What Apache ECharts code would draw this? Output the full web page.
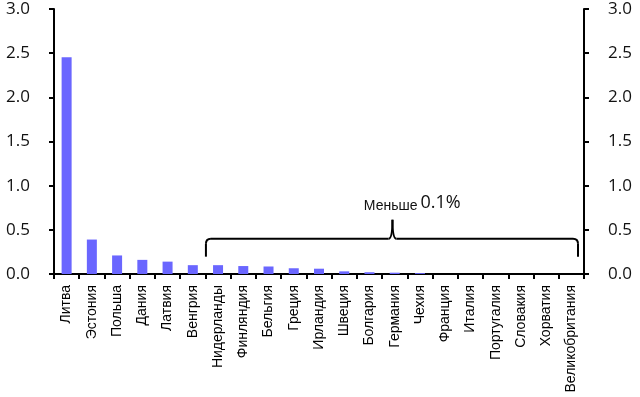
<!DOCTYPE html>
<html>
<head>
<meta charset="utf-8">
<script src="https://cdn.jsdelivr.net/npm/echarts@6/dist/echarts.min.js"></script>
<style>
  html, body { margin: 0; padding: 0; background: #ffffff; }
  #chart { width: 640px; height: 397px; }
</style>
</head>
<body>
<div id="chart"></div>
<script>
// страны и доли (%)
var countries = [
  "Литва", "Эстония", "Польша", "Дания", "Латвия", "Венгрия", "Нидерланды",
  "Финляндия", "Бельгия", "Греция", "Ирландия", "Швеция", "Болгария",
  "Германия", "Чехия", "Франция", "Италия", "Португалия", "Словакия",
  "Хорватия", "Великобритания"
];
var shares = [
  2.455, 0.39, 0.21, 0.16, 0.14, 0.10, 0.10,
  0.09, 0.085, 0.065, 0.06, 0.03, 0.02,
  0.015, 0.01, 0, 0, 0, 0,
  0, 0
];
var yMin = 0, yMax = 3, yStep = 0.5;
// скобка "Меньше 0.1%"
var braceFrom = "Нидерланды";
var braceTo = "Великобритания";
var braceLevel = 0.4;
var braceText = ["Меньше", "0.1%"];

var chart = echarts.init(document.getElementById("chart"));

var valueAxis = function (pos) {
  return {
    type: "value",
    position: pos,
    min: yMin,
    max: yMax,
    interval: yStep,
    axisLine: { show: true, lineStyle: { color: "#000", width: 2 } },
    axisTick: { show: true, inside: false, length: 5, lineStyle: { color: "#000", width: 2 } },
    splitLine: { show: false },
    axisLabel: {
      margin: 24,
      color: "#111",
      fontSize: 17,
      fontFamily: "Open Sans",
      formatter: function (v) { return v.toFixed(1); }
    }
  };
};

chart.setOption({
  animation: false,
  grid: { left: 54, right: 56, top: 9, bottom: 123, containLabel: false },
  xAxis: {
    type: "category",
    data: countries,
    boundaryGap: true,
    axisLine: { lineStyle: { color: "#000", width: 2 } },
    axisTick: { show: true, length: 5, lineStyle: { color: "#000", width: 2 } },
    axisLabel: {
      interval: 0,
      rotate: 90,
      margin: 11,
      color: "#000",
      fontSize: 14,
      fontFamily: "Liberation Sans"
    }
  },
  yAxis: [valueAxis("left"), valueAxis("right")],
  series: [{
    type: "bar",
    data: shares,
    barWidth: 10,
    itemStyle: { color: "#6a66ff" }
  }]
});

// рисуем фигурную скобку по координатам осей
var band = chart.convertToPixel({ xAxisIndex: 0 }, countries[1]) -
           chart.convertToPixel({ xAxisIndex: 0 }, countries[0]);
var x1 = chart.convertToPixel({ xAxisIndex: 0 }, braceFrom) - band / 2 + 0.5;
var x2 = chart.convertToPixel({ xAxisIndex: 0 }, braceTo) + band / 2 - 6;
var yh = chart.convertToPixel({ yAxisIndex: 0 }, braceLevel);
var yEnd = yh + 18;
var yTip = yh - 19;
var xc = (x1 + x2) / 2 + 0.5;
var r = 5;
var ls = { stroke: "#000", lineWidth: 2, fill: null };

function seg(ax, ay, bx, by) {
  return { type: "line", shape: { x1: ax, y1: ay, x2: bx, y2: by }, style: ls };
}
function curve(ax, ay, cx, cy, bx, by) {
  return { type: "bezierCurve", shape: { x1: ax, y1: ay, cpx1: cx, cpy1: cy, x2: bx, y2: by }, style: ls };
}

chart.setOption({
  graphic: [
    seg(x1, yEnd, x1, yh + r),
    curve(x1, yh + r, x1, yh, x1 + r, yh),
    seg(x1 + r, yh, xc - 4, yh),
    curve(xc - 4, yh, xc, yh, xc, yTip),
    curve(xc, yTip, xc, yh, xc + 4, yh),
    seg(xc + 4, yh, x2 - r, yh),
    curve(x2 - r, yh, x2, yh, x2, yh + r),
    seg(x2, yh + r, x2, yEnd),
    {
      type: "text",
      x: xc + 25,
      y: yTip - 7,
      style: {
        text: braceText[0],
        align: "right",
        verticalAlign: "bottom",
        fontSize: 14,
        fontFamily: "Liberation Sans",
        fill: "#111"
      }
    },
    {
      type: "text",
      x: xc + 28,
      y: yTip - 8,
      style: {
        text: braceText[1],
        align: "left",
        verticalAlign: "bottom",
        fontSize: 18,
        fontFamily: "Open Sans",
        fill: "#111"
      }
    }
  ]
});
</script>
</body>
</html>
